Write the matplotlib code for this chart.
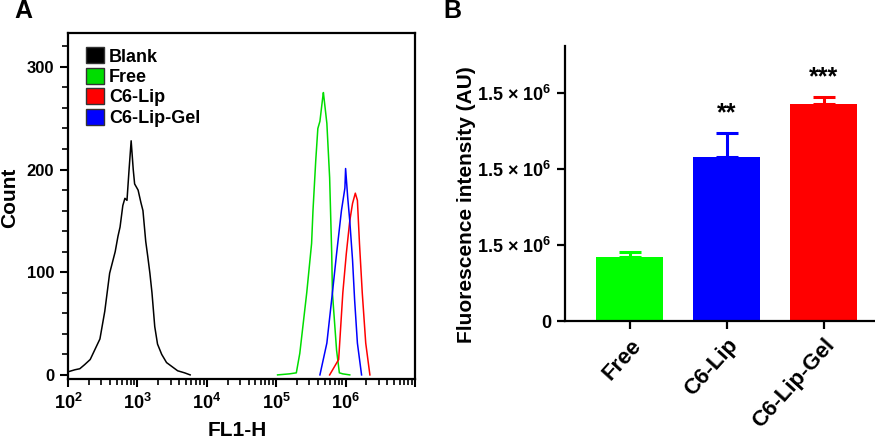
import numpy as np
import matplotlib
matplotlib.use("Agg")
import matplotlib.pyplot as plt
from matplotlib.patches import Patch
from matplotlib.ticker import FixedLocator, NullFormatter

plt.rcParams['font.family'] = ['Liberation Sans', 'DejaVu Sans']
plt.rcParams['font.weight'] = 'bold'
plt.rcParams['mathtext.fontset'] = 'custom'
plt.rcParams['mathtext.rm'] = 'Liberation Sans:bold'
plt.rcParams['mathtext.bf'] = 'Liberation Sans:bold'
plt.rcParams['mathtext.it'] = 'Liberation Sans:bold'

# ---------------- Panel A data (FL1-H decade exponent, count) ----------------
blank_log = [2.00, 2.10, 2.17, 2.24, 2.32, 2.39, 2.46, 2.53, 2.60, 2.68, 2.72, 2.75,
             2.79, 2.82, 2.85, 2.88, 2.91, 2.94, 2.96, 3.01, 3.05, 3.08, 3.12, 3.15,
             3.18, 3.21, 3.25, 3.29, 3.35, 3.42, 3.50, 3.58, 3.68, 3.76]
blank_cnt = [3, 5, 6, 10, 15, 25, 35, 62, 99, 120, 135, 144,
             165, 172, 170, 200, 228, 200, 186, 180, 168, 160, 130, 115,
             99, 80, 47, 30, 20, 12, 8, 4, 2, 0]

free_log = [5.02, 5.19, 5.29, 5.34, 5.44, 5.51, 5.53, 5.57, 5.60, 5.63, 5.67, 5.68,
            5.73, 5.77, 5.80, 5.81, 5.87, 5.91, 5.96, 6.06]
free_cnt = [0, 1, 2, 21, 80, 128, 160, 209, 240, 247, 270, 275,
            245, 192, 118, 80, 24, 2, 1, 0]

lip_log = [5.77, 5.90, 5.96, 6.01, 6.06, 6.10, 6.14, 6.17, 6.20, 6.24, 6.29, 6.35]
lip_cnt = [0, 15, 80, 118, 150, 167, 177, 170, 128, 80, 31, 0]

gel_log = [5.63, 5.73, 5.81, 5.87, 5.94, 5.99, 6.00, 6.03, 6.06, 6.10, 6.13, 6.17, 6.23]
gel_cnt = [0, 31, 80, 118, 160, 182, 201, 173, 150, 112, 73, 31, 0]

legend_labels = ['Blank', 'Free', 'C6-Lip', 'C6-Lip-Gel']
hist_colors = ['#000000', '#00dd00', '#ff0000', '#0000ff']
xtick_labels_A = [r'$\mathbf{10^{2}}$', r'$\mathbf{10^{3}}$', r'$\mathbf{10^{4}}$',
                  r'$\mathbf{10^{5}}$', r'$\mathbf{10^{6}}$', '']

# ---------------- Panel B data ----------------
groups = ['Free', 'C6-Lip', 'C6-Lip-Gel']
means = [4.21e5, 1.079e6, 1.428e6]
errs = [3.3e4, 1.58e5, 4.6e4]
bar_colors = ['#00ff00', '#0000ff', '#ff0000']
stars = ['', '**', '***']
ytick_vals = [0, 5e5, 1e6, 1.5e6]
ytick_labels = ['0', r'1.5 × $\mathbf{10^{6}}$', r'1.5 × $\mathbf{10^{6}}$',
                r'1.5 × $\mathbf{10^{6}}$']

fig = plt.figure(figsize=(8.75, 4.41), dpi=100)

# ---------------- Panel A ----------------
axA = fig.add_axes([68/875, 1-379/441, (415-68)/875, (379-33)/441])
for lg, ct, col in zip([blank_log, free_log, lip_log, gel_log],
                       [blank_cnt, free_cnt, lip_cnt, gel_cnt],
                       hist_colors):
    axA.plot(10**np.array(lg), ct, color=col, lw=1.1)
axA.set_xscale('log')
axA.set_xlim(1e2, 1e7)
axA.set_ylim(-4, 333)
axA.xaxis.set_major_locator(FixedLocator([1e2, 1e3, 1e4, 1e5, 1e6, 1e7]))
axA.set_xticklabels(xtick_labels_A, fontsize=13)
minors = [m * 10**d for d in range(2, 7) for m in range(2, 10)]
axA.xaxis.set_minor_locator(FixedLocator(minors))
axA.xaxis.set_minor_formatter(NullFormatter())
axA.set_yticks([0, 100, 200, 300])
axA.set_yticks(list(range(0, 331, 20)), minor=True)
axA.set_yticklabels(['0', '100', '200', '300'], fontsize=12, fontweight='bold')
axA.tick_params(axis='both', which='major', direction='out', length=6, width=1.5, pad=4)
axA.tick_params(axis='both', which='minor', direction='out', length=4, width=1.2)
for s in axA.spines.values():
    s.set_linewidth(1.6)
handles = [Patch(facecolor=c, edgecolor='#333333', lw=1) for c in hist_colors]
leg = axA.legend(handles, legend_labels, loc='upper left', bbox_to_anchor=(0.02, 0.99),
                 frameon=False, handlelength=1.0, handleheight=1.0, handletextpad=0.3,
                 labelspacing=0.12, borderaxespad=0.2,
                 prop={'weight': 'bold', 'size': 13})
fig.text(10/875, 1-198/441, 'Count', rotation=90, ha='center', va='center',
         fontsize=15, fontweight='bold')
fig.text(237/875, 1-430/441, 'FL1-H', ha='center', va='center', fontsize=15, fontweight='bold')
fig.text(14/875, 1-11/441, 'A', ha='left', va='center', fontsize=18, fontweight='bold')

# ---------------- Panel B ----------------
axB = fig.add_axes([565/875, 1-321/441, (875-565)/875, (321-46)/441])
x = np.arange(len(groups))
axB.bar(x, means, width=0.69, color=bar_colors)
for xi, m, e, c, st in zip(x, means, errs, bar_colors, stars):
    axB.errorbar(xi, m, yerr=[[0], [e]], color=c, capsize=8, capthick=2.2, elinewidth=2.2)
    if st:
        axB.text(xi, m + e + 0.13e6, st, ha='center', va='center', fontsize=18,
                 fontweight='bold')
axB.set_xlim(-0.67, 2.53)
axB.set_ylim(0, 1.81e6)
axB.set_yticks(ytick_vals)
axB.set_yticklabels(ytick_labels, fontsize=13, fontweight='bold')
axB.set_xticks(x)
axB.set_xticklabels(groups, rotation=48, ha='right', rotation_mode='anchor',
                    fontsize=16, fontweight='bold')
axB.tick_params(axis='both', direction='out', length=6, width=1.6, pad=4)
axB.spines['top'].set_visible(False)
axB.spines['right'].set_visible(False)
for s in ['left', 'bottom']:
    axB.spines[s].set_linewidth(1.6)
fig.text(466/875, 1-205/441, 'Fluorescence intensity (AU)', rotation=90, ha='center',
         va='center', fontsize=15, fontweight='bold')
fig.text(443/875, 1-11/441, 'B', ha='left', va='center', fontsize=18, fontweight='bold')

fig.savefig('out.png', dpi=100)
